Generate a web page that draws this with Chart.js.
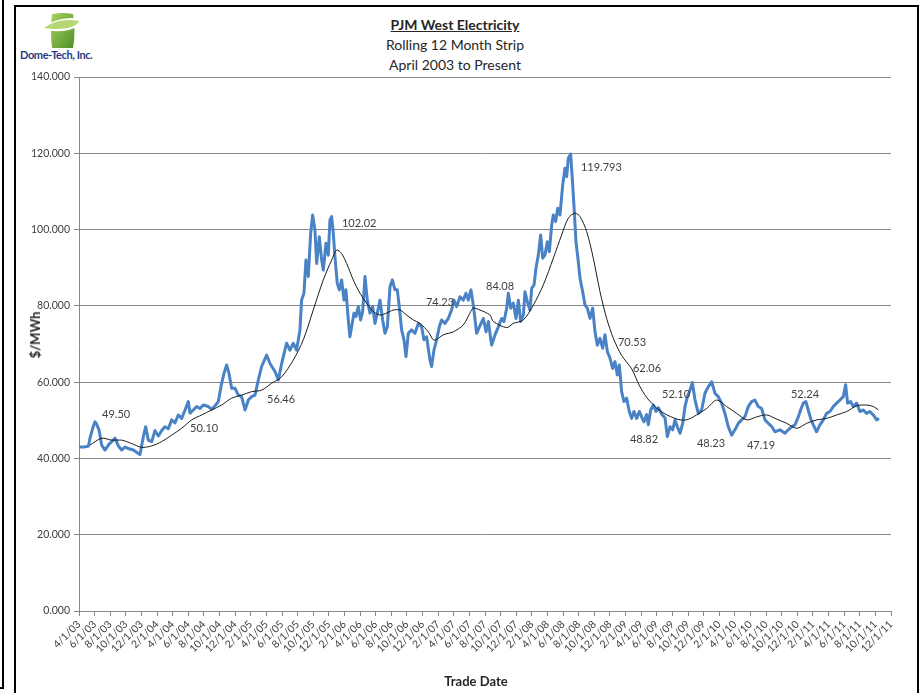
<!DOCTYPE html>
<html>
<head>
<meta charset="utf-8">
<title>PJM West Electricity</title>
<script src="https://cdn.jsdelivr.net/npm/chart.js@4.4.0/dist/chart.umd.min.js"></script>
<style>
  html, body { margin: 0; padding: 0; background: #fff; }
  body { width: 920px; height: 693px; position: relative; overflow: hidden;
         font-family: Lato, "Open Sans", sans-serif; color: #404040; }
  #chart { position: absolute; left: 0; top: 0; }
  .strip { position: absolute; left: -10px; top: -10px; width: 14px; height: 699px;
           border: 2px solid #000; box-sizing: border-box; }
  .frame { position: absolute; left: 14px; top: 5px; width: 905px; height: 720px;
           border: 2px solid #000; box-sizing: border-box; }
  #title { position: absolute; left: 255px; top: 15px; width: 400px; text-align: center;
           font-size: 14px; line-height: 20px; color: #262626; }
  #title .main { font-weight: bold; text-decoration: underline; }
  #logo-text { position: absolute; left: 20px; top: 48px; font-size: 11px; font-weight: bold;
               color: #1f3c85; letter-spacing: -0.4px; }
  .axis-title { position: absolute; font-weight: bold; font-size: 13px; color: #262626; white-space: nowrap; }
  #y-title { left: 35px; top: 335px; transform: translate(-50%, -50%) rotate(-90deg); }
  #x-title { left: 476px; top: 681px; transform: translate(-50%, -50%); }
</style>
</head>
<body>
<div class="strip"></div>
<div class="frame"></div>

<svg style="position:absolute;left:42px;top:11px" width="40" height="38" viewBox="0 0 40 38">
  <defs>
    <linearGradient id="lg" x1="0" y1="0" x2="1" y2="1">
      <stop offset="0" stop-color="#a9d25c"/>
      <stop offset="1" stop-color="#4f8f2b"/>
    </linearGradient>
  </defs>
  <path d="M10 3 Q22 1 31 3 Q34 20 31 37 L10 37 Q8 20 10 3 Z" fill="url(#lg)"/>
  <path d="M0 18 Q16 4 39 8 Q40 15 27 19 Q13 22 0 18 Z" fill="#fff"/>
  <path d="M2 17 Q17 6 37 10 Q36 14 26 17 Q14 19 2 17 Z" fill="#b3d872"/>
</svg>
<div id="logo-text">Dome-Tech, Inc.</div>

<div id="title">
  <div class="main">PJM West Electricity</div>
  <div>Rolling 12 Month Strip</div>
  <div>April 2003 to Present</div>
</div>

<canvas id="chart" width="920" height="693"></canvas>

<div class="axis-title" id="y-title">$/MWh</div>
<div class="axis-title" id="x-title">Trade Date</div>

<script>
// x values are months counted from 4/1/03
const tickLabels = [
  '4/1/03', '6/1/03', '8/1/03', '10/1/03', '12/1/03',
  '2/1/04', '4/1/04', '6/1/04', '8/1/04', '10/1/04', '12/1/04',
  '2/1/05', '4/1/05', '6/1/05', '8/1/05', '10/1/05', '12/1/05',
  '2/1/06', '4/1/06', '6/1/06', '8/1/06', '10/1/06', '12/1/06',
  '2/1/07', '4/1/07', '6/1/07', '8/1/07', '10/1/07', '12/1/07',
  '2/1/08', '4/1/08', '6/1/08', '8/1/08', '10/1/08', '12/1/08',
  '2/1/09', '4/1/09', '6/1/09', '8/1/09', '10/1/09', '12/1/09',
  '2/1/10', '4/1/10', '6/1/10', '8/1/10', '10/1/10', '12/1/10',
  '2/1/11', '4/1/11', '6/1/11', '8/1/11', '10/1/11', '12/1/11'
];
const yTicks = [0, 20, 40, 60, 80, 100, 120, 140];

// daily strip price (blue)
const stripMonths = [
  0.0, 0.6, 1.2, 1.41, 1.84, 2.05, 2.26, 2.56, 2.9, 3.33, 3.76, 4.18, 4.61, 5.04, 5.46, 5.89,
  6.32, 6.96, 7.6, 7.81, 8.24, 8.54, 8.88, 9.31, 9.73, 10.16, 10.59, 11.01, 11.44, 11.87, 12.29,
  12.72, 13.15, 13.58, 14.0, 14.22, 14.64, 15.07, 15.5, 15.92, 16.56, 16.99, 17.42, 17.84, 18.27,
  18.57, 18.91, 19.21, 19.55, 19.98, 20.41, 20.83, 21.26, 21.69, 22.11, 22.54, 22.97, 23.39, 24.03,
  24.46, 25.1, 25.53, 25.96, 26.17, 26.59, 27.02, 27.45, 27.87, 28.3, 28.51, 28.81, 29.07, 29.37,
  29.67, 29.92, 30.22, 30.44, 30.78, 31.08, 31.29, 31.63, 31.93, 32.14, 32.36, 32.57, 32.78, 33.08,
  33.34, 33.64, 33.94, 34.19, 34.49, 34.7, 34.92, 35.22, 35.47, 35.77, 36.07, 36.33, 36.63, 36.92,
  37.27, 37.61, 37.91, 38.21, 38.55, 38.89, 39.19, 39.49, 39.83, 40.13, 40.47, 40.77, 41.02, 41.32,
  41.62, 41.88, 42.18, 42.6, 43.03, 43.46, 43.88, 44.18, 44.52, 44.95, 45.16, 45.46, 45.8, 46.15,
  46.44, 46.87, 47.3, 47.72, 48.02, 48.37, 48.79, 49.22, 49.56, 49.86, 50.2, 50.41, 50.63, 50.93,
  51.36, 51.79, 52.13, 52.43, 52.85, 53.28, 53.71, 54.13, 54.43, 54.78, 54.99, 55.29, 55.63, 55.97,
  56.27, 56.57, 56.91, 57.12, 57.42, 57.76, 57.98, 58.28, 58.53, 58.83, 59.13, 59.39, 59.68, 59.98,
  60.24, 60.54, 60.75, 61.05, 61.31, 61.6, 61.95, 62.24, 62.46, 62.67, 62.97, 63.23, 63.44, 63.65,
  63.95, 64.17, 64.51, 64.81, 65.1, 65.45, 65.79, 66.09, 66.39, 66.73, 67.07, 67.37, 67.67, 68.01,
  68.35, 68.65, 68.95, 69.2, 69.5, 69.8, 70.14, 70.48, 70.78, 71.08, 71.42, 71.77, 72.06, 72.36,
  72.7, 72.92, 73.22, 73.56, 73.9, 74.2, 74.63, 75.06, 75.35, 75.7, 76.04, 76.34, 76.64, 76.98,
  77.32, 77.62, 77.92, 78.26, 78.56, 78.9, 79.32, 79.75, 80.17, 80.6, 81.03, 81.45, 81.88, 82.3,
  82.73, 83.16, 83.59, 84.01, 84.44, 84.87, 85.29, 85.72, 86.15, 86.57, 87.0, 87.43, 87.86, 88.28,
  88.71, 89.14, 89.78, 90.42, 90.84, 91.27, 91.7, 92.13, 92.42, 92.77, 93.1, 93.4, 93.7, 94.05,
  94.47, 94.9, 95.33, 95.75, 96.18, 96.61, 97.03, 97.46, 97.89, 98.19, 98.44, 98.83, 99.17, 99.6,
  100.02, 100.45, 100.88, 101.3, 101.73, 102.16, 102.46
];
const stripValues = [
  43.0, 43.0, 43.2, 45.3, 48.5, 49.6, 49.0, 47.5, 43.5, 42.2, 43.5, 44.4, 45.3, 43.3, 42.2, 43.0,
  42.6, 42.2, 41.3, 41.0, 45.7, 48.3, 44.8, 44.4, 47.3, 45.9, 47.3, 48.3, 47.8, 50.1, 49.3,
  51.4, 50.5, 52.7, 54.9, 51.9, 52.7, 53.6, 53.1, 54.0, 53.6, 52.9, 53.8, 54.9, 59.7,
  62.3, 64.5, 62.3, 58.4, 58.4, 56.6, 56.2, 52.7, 55.3, 56.2, 56.6, 60.6, 64.1, 67.1,
  64.9, 62.8, 60.6, 64.9, 66.7, 70.2, 68.4, 70.2, 68.4, 73.7, 81.5, 83.3, 92.0, 87.7,
  99.0, 103.8, 99.9, 91.1, 98.1, 92.0, 89.4, 96.4, 93.3, 102.5, 103.4, 99.0, 92.9, 85.9,
  84.2, 86.8, 81.5, 84.2, 76.3, 71.9, 74.5, 78.1, 77.2, 79.8, 76.3, 78.5, 87.7, 81.5,
  78.1, 79.8, 75.4, 78.1, 81.5, 76.3, 72.8, 74.5, 85.0, 86.8, 84.2, 84.2, 79.8, 73.7,
  71.1, 66.7, 72.8, 73.7, 72.8, 75.4, 74.5, 71.1, 71.9, 65.8, 64.1, 68.4, 71.1, 74.5,
  76.3, 75.4, 76.7, 78.9, 81.5, 79.8, 82.4, 81.5, 83.3, 81.5, 84.2, 81.5, 78.1, 72.8,
  74.8, 76.7, 73.2, 75.9, 69.7, 72.4, 74.5, 76.7, 75.9, 79.4, 83.3, 79.4, 80.7, 76.7,
  81.5, 75.9, 77.6, 83.7, 81.1, 78.9, 84.6, 85.5, 89.9, 93.3, 98.6, 92.5, 93.3, 96.8,
  94.2, 101.2, 103.8, 102.1, 105.6, 103.8, 111.7, 116.1, 113.9, 118.7, 119.8, 111.7, 104.7, 96.8,
  91.6, 87.2, 83.7, 80.2, 79.4, 76.7, 79.4, 73.2, 69.7, 71.5, 68.9, 72.4, 68.0, 66.3,
  63.6, 65.4, 61.9, 64.5, 57.5, 54.9, 55.8, 52.3, 50.5, 52.3, 50.5, 52.3, 50.9, 49.6,
  51.5, 48.8, 52.7, 54.0, 52.3, 53.3, 51.6, 50.6, 45.7, 48.3, 47.5, 50.1, 48.3, 46.6,
  49.2, 53.6, 56.2, 57.9, 59.9, 55.3, 51.8, 52.7, 57.1, 58.8, 60.1, 57.1, 56.2, 54.5,
  51.8, 48.3, 46.1, 47.5, 49.2, 50.1, 50.9, 53.6, 54.9, 55.3, 53.6, 53.1, 50.1, 49.2,
  48.4, 47.0, 47.5, 46.6, 47.5, 48.3, 48.8, 50.9, 52.7, 54.5, 54.9, 52.7, 50.5, 48.8,
  47.0, 48.8, 50.1, 51.8, 52.3, 53.6, 54.5, 55.3, 56.2, 59.3, 54.5, 54.9, 53.6, 54.5,
  52.3, 52.7, 51.8, 52.3, 51.4, 50.1, 50.5
];

// moving average (black)
const avgMonths = [
  1.41, 2.9, 4.18, 5.46, 6.75, 8.03, 9.31, 10.59, 11.87, 13.15, 14.43, 15.71, 16.99, 18.27,
  19.55, 20.83, 22.11, 23.39, 24.67, 25.96, 27.45, 28.73, 30.0, 31.29, 32.36, 33.0, 33.64, 34.28,
  35.13, 35.99, 36.84, 37.69, 38.55, 39.4, 40.25, 41.11, 41.96, 42.82, 43.67, 44.74, 45.38, 45.8,
  46.66, 47.94, 49.22, 50.07, 50.5, 51.36, 52.63, 53.07, 54.78, 55.63, 56.91, 58.19, 59.47, 60.75,
  61.82, 62.67, 63.53, 64.17, 65.02, 65.87, 66.73, 67.58, 68.44, 69.5, 70.78, 71.8, 72.7, 73.5,
  74.41, 75.3, 76.2, 77.0, 77.8, 78.68, 80.39, 81.67, 82.95, 84.24, 85.52, 86.8, 88.08, 89.36,
  90.64, 91.92, 93.2, 94.48, 95.76, 97.04, 98.32, 99.6, 100.88, 101.74, 102.38
];
const avgValues = [
  43.5, 45.3, 44.8, 44.8, 43.9, 42.9, 43.3, 44.4, 46.1, 47.9, 50.1, 51.4, 52.7, 54.0,
  55.8, 56.6, 57.5, 57.9, 59.7, 61.4, 65.8, 71.1, 78.9, 86.8, 92.0, 94.6, 93.7, 91.1,
  86.8, 83.3, 80.7, 78.5, 77.6, 78.1, 78.9, 78.9, 77.6, 76.3, 75.4, 73.2, 71.1, 71.2,
  72.4, 73.2, 75.0, 78.1, 79.4, 78.9, 77.6, 75.9, 74.3, 75.4, 76.3, 80.2, 85.5, 92.5,
  98.6, 103.0, 104.3, 103.4, 99.5, 92.5, 83.7, 76.7, 71.5, 67.0, 63.5, 59.0, 56.0, 54.2,
  52.5, 51.4, 50.6, 50.1, 50.1, 50.9, 53.1, 55.3, 53.6, 51.8, 50.1, 50.9, 51.4, 50.3,
  49.2, 47.9, 49.2, 50.1, 50.5, 51.4, 52.3, 53.8, 54.0, 53.6, 52.7
];

// value callouts, anchored at their left edge
const noteTexts  = ['49.50', '50.10', '56.46', '102.02', '74.23', '84.08', '119.793',
                    '70.53', '62.06', '52.10', '48.82', '48.23', '47.19', '52.24'];
const noteMonths = [2.95, 14.22, 24.08, 33.68, 44.44, 52.13, 64.29,
                    69.03, 70.95, 74.67, 70.57, 79.15, 85.55, 91.19];
const noteValues = [51.65, 47.98, 55.58, 101.73, 81.02, 85.21, 116.41,
                    70.53, 63.71, 56.9, 45.1, 44.05, 43.52, 56.9];

const FONT = 'Lato, "Open Sans", sans-serif';
Chart.defaults.font.family = FONT;
Chart.defaults.color = '#404040';

const notesPlugin = {
    id: 'notes',
    afterDatasetsDraw(chart) {
        const { ctx, scales: { x, y } } = chart;
        ctx.save();
        ctx.font = '11px ' + FONT;
        ctx.fillStyle = '#404040';
        ctx.textAlign = 'left';
        ctx.textBaseline = 'middle';
        noteTexts.forEach((t, i) => {
            ctx.fillText(t, x.getPixelForValue(noteMonths[i]), y.getPixelForValue(noteValues[i]));
        });
        ctx.restore();
    }
};

const gridColor = '#878787';

new Chart(document.getElementById('chart'), {
    type: 'line',
    data: {
        datasets: [
            {
                label: 'Average',
                data: avgMonths.map((m, i) => ({ x: m, y: avgValues[i] })),
                borderColor: '#1a1a1a',
                borderWidth: 1,
                pointRadius: 0,
                tension: 0.3
            },
            {
                label: 'Strip',
                data: stripMonths.map((m, i) => ({ x: m, y: stripValues[i] })),
                borderColor: '#4a82c6',
                borderWidth: 3,
                borderJoinStyle: 'round',
                pointRadius: 0,
                tension: 0
            }
        ]
    },
    options: {
        responsive: false,
        animation: false,
        layout: { padding: { left: 0, top: 77, right: 29, bottom: 0 } },
        plugins: {
            legend: { display: false },
            tooltip: { enabled: false }
        },
        scales: {
            x: {
                type: 'linear',
                min: 0,
                max: 104,
                afterBuildTicks: scale => { scale.ticks = tickLabels.map((l, i) => ({ value: i * 2 })); },
                afterFit: scale => { scale.height = 82; },
                ticks: {
                    autoSkip: false,
                    minRotation: 45,
                    maxRotation: 45,
                    padding: 2,
                    font: { size: 10.5 },
                    callback: (v, i) => tickLabels[i]
                },
                grid: { drawOnChartArea: false, drawTicks: true, tickLength: 5, color: gridColor },
                border: { color: gridColor }
            },
            y: {
                min: 0,
                max: 140,
                afterBuildTicks: scale => { scale.ticks = yTicks.map(v => ({ value: v })); },
                afterFit: scale => { scale.width = 79; },
                ticks: {
                    padding: 4,
                    font: { size: 10.5 },
                    callback: v => v.toFixed(3)
                },
                grid: { color: gridColor, tickLength: 5 },
                border: { color: gridColor }
            }
        }
    },
    plugins: [notesPlugin]
});
</script>
</body>
</html>
